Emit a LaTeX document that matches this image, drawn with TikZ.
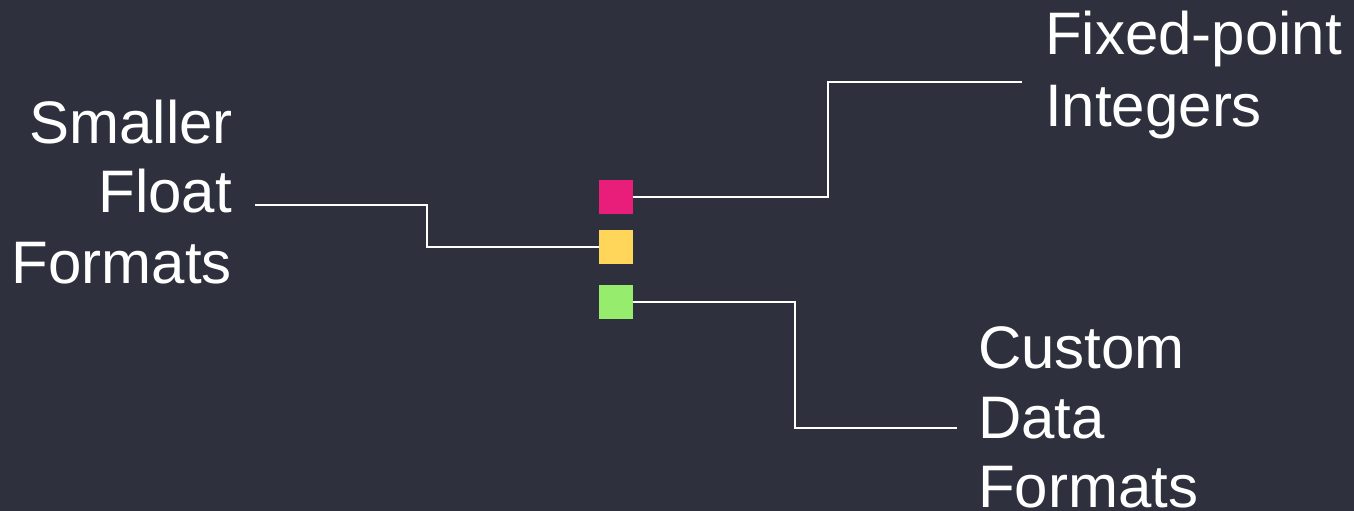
\documentclass[tikz,border=0pt]{standalone}
\usepackage{fontspec}
\setmainfont{Liberation Sans}
\definecolor{bg}{HTML}{2E313D}
\definecolor{pinkc}{HTML}{E91E7B}
\definecolor{yellowc}{HTML}{FFD65A}
\definecolor{greenc}{HTML}{96EC6C}
\tikzset{
  sq/.style={minimum size=34pt, inner sep=0pt, draw=none},
  lbl/.style={text=white, inner sep=0pt, font=\fontsize{60}{70}\selectfont},
  conn/.style={draw=white, line width=2pt}
}
\begin{document}
\begin{tikzpicture}[x=1pt,y=-1pt]
\fill[bg] (0,0) rectangle (1354,511);
\useasboundingbox (0,0) rectangle (1354,511);
% squares
\node[sq, fill=pinkc] (pink) at (616,197) {};
\node[sq, fill=yellowc] (yellow) at (616,247) {};
\node[sq, fill=greenc] (green) at (616,302) {};
% left label
\node[lbl, anchor=base east] (sm1) at (233,143) {Smaller};
\node[lbl, anchor=base east] (sm2) at (232,212) {Float};
\node[lbl, anchor=base east] (sm3) at (232,283) {Formats};
% top right label
\node[lbl, anchor=base west] (fx1) at (1045,55) {Fixed-point};
\node[lbl, anchor=base west] (fx2) at (1045,126) {Integers};
% bottom right label
\node[lbl, anchor=base west] (cu1) at (978,368) {Custom};
\node[lbl, anchor=base west] (cu2) at (978,438) {Data};
\node[lbl, anchor=base west] (cu3) at (978,507) {Formats};
% connector ends
\coordinate (fxend) at (1022,82);
\coordinate (smend) at (255,205);
\coordinate (cuend) at (957,428);
\draw[conn] (pink.east) -- (828,197) -- (828,82) -- (fxend);
\draw[conn] (yellow.west) -- (427,247) -- (427,205) -- (smend);
\draw[conn] (green.east) -- (795,302) -- (795,428) -- (cuend);
\end{tikzpicture}
\end{document}
